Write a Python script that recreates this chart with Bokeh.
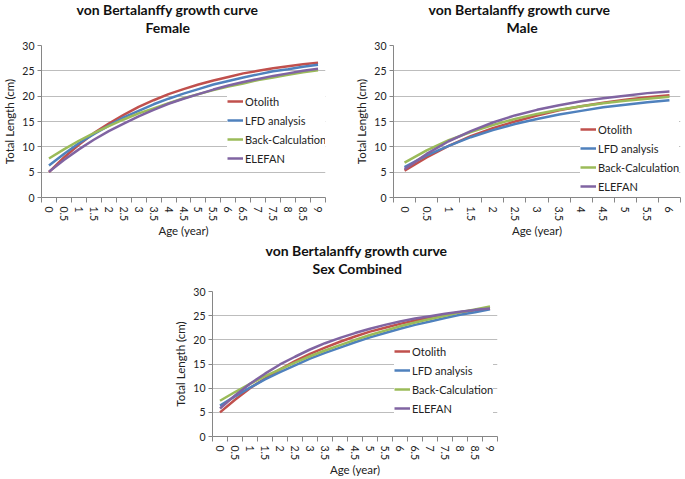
import math
from bokeh.plotting import figure
from bokeh.layouts import column, row
from bokeh.models import FixedTicker, Spacer, Title
from bokeh.embed import file_html
from bokeh.resources import INLINE

# ages (year) and tick labels
ages_9 = [0, 0.5, 1, 1.5, 2, 2.5, 3, 3.5, 4, 4.5, 5, 5.5, 6, 6.5, 7, 7.5, 8, 8.5, 9]
labels_9 = ["0", "0.5", "1", "1.5", "2", "2.5", "3", "3.5", "4", "4.5", "5",
            "5.5", "6", "6.5", "7", "7.5", "8", "8.5", "9"]
ages_6 = [0, 0.5, 1, 1.5, 2, 2.5, 3, 3.5, 4, 4.5, 5, 5.5, 6]
labels_6 = ["0", "0.5", "1", "1.5", "2", "2.5", "3", "3.5", "4", "4.5", "5", "5.5", "6"]

# total length (cm)
female_otolith = [5.0, 7.9, 10.4, 12.7, 14.6, 16.3, 17.9, 19.2, 20.4, 21.4, 22.3,
                  23.1, 23.8, 24.5, 25.0, 25.5, 25.9, 26.3, 26.6]
female_lfd = [6.3, 8.6, 10.7, 12.5, 14.2, 15.8, 17.1, 18.4, 19.5, 20.5, 21.4,
              22.3, 23.0, 23.7, 24.3, 24.9, 25.3, 25.8, 26.2]
female_back = [7.7, 9.5, 11.2, 12.7, 14.1, 15.4, 16.6, 17.6, 18.6, 19.6, 20.4,
               21.2, 21.9, 22.5, 23.2, 23.7, 24.2, 24.7, 25.1]
female_elefan = [5.1, 7.4, 9.5, 11.4, 13.1, 14.6, 16.0, 17.3, 18.5, 19.5, 20.4,
                 21.3, 22.1, 22.8, 23.4, 24.0, 24.5, 25.0, 25.4]

male_otolith = [5.3, 7.9, 10.2, 12.1, 13.7, 15.0, 16.2, 17.2, 18.0, 18.7, 19.3, 19.8, 20.2]
male_lfd = [6.0, 8.3, 10.2, 11.9, 13.3, 14.5, 15.5, 16.4, 17.1, 17.8, 18.3, 18.8, 19.2]
male_back = [6.9, 9.3, 11.3, 12.9, 14.3, 15.5, 16.5, 17.3, 18.0, 18.6, 19.1, 19.5, 19.9]
male_elefan = [5.6, 8.6, 11.1, 13.1, 14.8, 16.2, 17.3, 18.2, 19.0, 19.6, 20.1, 20.6, 20.9]

comb_otolith = [5.0, 7.6, 10.0, 12.0, 13.9, 15.6, 17.1, 18.4, 19.6, 20.7, 21.7,
                22.5, 23.3, 24.0, 24.6, 25.2, 25.7, 26.1, 26.5]
comb_lfd = [6.4, 8.3, 10.1, 11.8, 13.3, 14.7, 16.1, 17.3, 18.4, 19.5, 20.5,
            21.4, 22.3, 23.1, 23.8, 24.5, 25.2, 25.7, 26.3]
comb_back = [7.4, 9.2, 10.9, 12.5, 13.9, 15.3, 16.6, 17.8, 18.9, 20.0, 21.0,
             21.9, 22.8, 23.6, 24.3, 25.0, 25.7, 26.3, 26.9]
comb_elefan = [5.8, 8.5, 10.9, 13.0, 14.9, 16.5, 18.0, 19.3, 20.4, 21.4, 22.3,
               23.1, 23.8, 24.4, 24.9, 25.4, 25.8, 26.2, 26.5]

methods = ["Otolith", "LFD analysis", "Back-Calculation", "ELEFAN"]
colors = ["#C0504D", "#4F81BD", "#9BBB59", "#8064A2"]
y_ticks = [0, 5, 10, 15, 20, 25, 30]
main_title = "von Bertalanffy growth curve"

FONT = "Lato"
AXIS_GRAY = "#868686"


def make_panel(sub, ages, labels, series, width, height, borders, title_gap,
               title_offsets, legend_xy):
    left, right, top, bottom = borders
    p = figure(width=width, height=height, output_backend="svg", toolbar_location=None,
               title=None, x_range=(ages[0] - 0.25, ages[-1] + 0.25), y_range=(0, 30),
               min_border_left=left, min_border_right=right,
               min_border_top=top, min_border_bottom=bottom)
    p.outline_line_color = None
    # blank strip between plot and titles, then subtitle, then main line
    p.add_layout(Title(text=" ", text_font_size="1px", standoff=title_gap), "above")
    for text, off, gap in ((sub, title_offsets[1], 0), (main_title, title_offsets[0], -3)):
        p.add_layout(Title(text=text, align="left", offset=off,
                           text_font=FONT, text_font_size="14px",
                           text_font_style="bold", text_color="#111111",
                           standoff=gap), "above")

    for vals, name, c in zip(series, methods, colors):
        p.line(ages, vals, line_color=c, line_width=2.5, legend_label=name)

    # x axis: labels at category centres, tick marks between categories
    bounds = [a - 0.25 for a in ages] + [ages[-1] + 0.25]
    p.xaxis.ticker = FixedTicker(ticks=ages, minor_ticks=bounds)
    p.xaxis.major_label_overrides = dict(zip(ages, labels))
    p.xaxis.major_tick_line_color = None
    p.xaxis.major_tick_in = 0
    p.xaxis.major_tick_out = 0
    p.xaxis.minor_tick_in = 0
    p.xaxis.minor_tick_out = 5
    p.xaxis.minor_tick_line_color = AXIS_GRAY
    p.xaxis.major_label_orientation = -math.pi / 2
    p.xaxis.major_label_standoff = 4
    p.xaxis.axis_label = "Age (year)"
    p.xaxis.axis_label_standoff = 0

    p.yaxis.ticker = FixedTicker(ticks=y_ticks)
    p.yaxis.minor_tick_line_color = None
    p.yaxis.major_tick_in = 0
    p.yaxis.major_tick_out = 4
    p.yaxis.major_tick_line_color = AXIS_GRAY
    p.yaxis.major_label_standoff = 3
    p.yaxis.axis_label = "Total Length (cm)"
    p.yaxis.axis_label_standoff = 3

    for ax in (p.xaxis, p.yaxis):
        ax.axis_line_color = AXIS_GRAY
        ax.major_label_text_font = FONT
        ax.major_label_text_font_size = "10.5px"
        ax.major_label_text_color = "#222222"
        ax.axis_label_text_font = FONT
        ax.axis_label_text_font_size = "11.5px"
        ax.axis_label_text_font_style = "normal"
        ax.axis_label_text_color = "#222222"

    p.xgrid.grid_line_color = None
    p.ygrid.grid_line_color = "#BDBDBD"
    p.ygrid.grid_line_width = 1.2

    p.legend.location = legend_xy
    p.legend.border_line_color = None
    p.legend.background_fill_color = "white"
    p.legend.background_fill_alpha = 1.0
    p.legend.padding = 2
    p.legend.margin = 0
    p.legend.spacing = 3
    p.legend.glyph_width = 16
    p.legend.glyph_height = 16
    p.legend.label_height = 16
    p.legend.label_standoff = 2
    p.legend.label_text_font = FONT
    p.legend.label_text_font_size = "11px"
    p.legend.label_text_color = "#222222"
    return p


p1 = make_panel("Female", ages_9, labels_9,
                [female_otolith, female_lfd, female_back, female_elefan],
                340, 240, (40, 15, 45, 43), 7, (35, 104), (186, 31))
p2 = make_panel("Male", ages_6, labels_6,
                [male_otolith, male_lfd, male_back, male_elefan],
                345, 240, (53, 5, 45, 43), 7, (35, 113), (187, 3))
p3 = make_panel("Sex Combined", ages_9, labels_9,
                [comb_otolith, comb_lfd, comb_back, comb_elefan],
                340, 239, (40, 14, 51, 37), 12, (53, 100), (182, 20))

layout = column(row(p1, p2), row(Spacer(width=171, height=239), p3))

open("out.html", "w").write(file_html(layout, INLINE))
